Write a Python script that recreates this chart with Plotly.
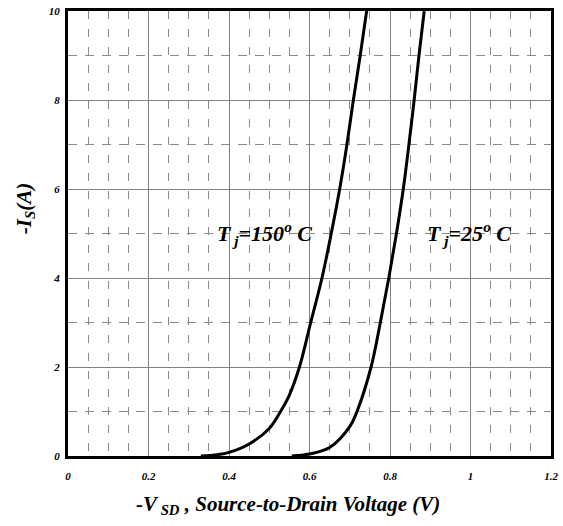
import plotly.graph_objects as go

# Data
vsd_150 = [0.33, 0.372, 0.40, 0.45, 0.50, 0.528, 0.55, 0.575, 0.603, 0.631, 0.654, 0.675, 0.693, 0.709, 0.726, 0.742]
is_150 = [0.0, 0.03, 0.08, 0.27, 0.62, 1.0, 1.37, 2.0, 3.0, 4.0, 5.0, 6.0, 7.0, 8.0, 9.0, 10.0]

vsd_25 = [0.556, 0.60, 0.65, 0.70, 0.718, 0.753, 0.776, 0.797, 0.816, 0.833, 0.847, 0.860, 0.872, 0.885]
is_25 = [0.0, 0.045, 0.19, 0.66, 1.0, 2.0, 3.0, 4.0, 5.0, 6.0, 7.0, 8.0, 9.0, 10.0]

x_ticks = [0, 0.2, 0.4, 0.6, 0.8, 1.0, 1.2]
x_tick_labels = ["0", "0.2", "0.4", "0.6", "0.8", "1", "1.2"]
y_ticks = [0, 2, 4, 6, 8, 10]
y_tick_labels = ["0", "2", "4", "6", "8", "10"]

FONT = "Liberation Serif"

fig = go.Figure()
for xs, ys in [(vsd_150, is_150), (vsd_25, is_25)]:
    fig.add_trace(go.Scatter(x=xs, y=ys, mode="lines",
                             line=dict(color="black", width=3, shape="spline", smoothing=1.0),
                             showlegend=False, hoverinfo="skip"))

tickfont = dict(family=FONT, size=11, color="black")
fig.update_xaxes(range=[0, 1.2], tickvals=x_ticks,
                 ticktext=["<b><i>%s</i></b>" % t for t in x_tick_labels],
                 showgrid=True, gridcolor="#808080", gridwidth=1,
                 minor=dict(dtick=0.05, tick0=0, showgrid=True, gridcolor="#8a8a8a",
                            griddash="8px,10px", gridwidth=1, ticks=""),
                 showline=True, linecolor="black", linewidth=3, mirror=True,
                 ticks="", zeroline=False, tickfont=tickfont, ticklabelstandoff=8)
fig.update_yaxes(range=[0, 10], tickvals=y_ticks,
                 ticktext=["<b><i>%s</i></b>" % t for t in y_tick_labels],
                 showgrid=True, gridcolor="#808080", gridwidth=1,
                 minor=dict(dtick=1, tick0=0, showgrid=True, gridcolor="#8a8a8a",
                            griddash="9px,8px", gridwidth=1, ticks=""),
                 showline=True, linecolor="black", linewidth=3, mirror=True,
                 ticks="", zeroline=False, tickfont=tickfont, ticklabelstandoff=3)

L, R, T, B = 68, 5, 10, 70
W, H = 563, 526
pw, ph = W - L - R, H - T - B

def px_to_paper(x, y):
    return (x - L) / pw, (H - B - y) / ph

annots = [
    dict(x=0.488, y=5.0, xref="x", yref="y",
         text="<b><i>T<sub> j</sub>=150<sup>o</sup> C</i></b>",
         showarrow=False, font=dict(family=FONT, size=22, color="black")),
    dict(x=0.997, y=5.0, xref="x", yref="y",
         text="<b><i>T<sub> j</sub>=25<sup>o</sup> C</i></b>",
         showarrow=False, font=dict(family=FONT, size=22, color="black")),
]
px_, py_ = px_to_paper(291, 505)
annots.append(dict(x=px_, y=py_, xref="paper", yref="paper", xanchor="center", yanchor="middle",
                   text="<b><i>-V<sub> SD</sub> , Source-to-Drain Voltage (V)</i></b>",
                   showarrow=False, font=dict(family=FONT, size=21, color="black")))
px_, py_ = px_to_paper(24, 208)
annots.append(dict(x=px_, y=py_, xref="paper", yref="paper", xanchor="center", yanchor="middle",
                   text="<b><i>-I<sub>S</sub>(A)</i></b>", textangle=-90,
                   showarrow=False, font=dict(family=FONT, size=21, color="black")))
fig.update_layout(annotations=annots)

fig.update_layout(width=W, height=H, margin=dict(l=L, r=R, t=T, b=B),
                  plot_bgcolor="white", paper_bgcolor="white",
                  font=dict(family=FONT, color="black"))

fig.write_html("out.html")
